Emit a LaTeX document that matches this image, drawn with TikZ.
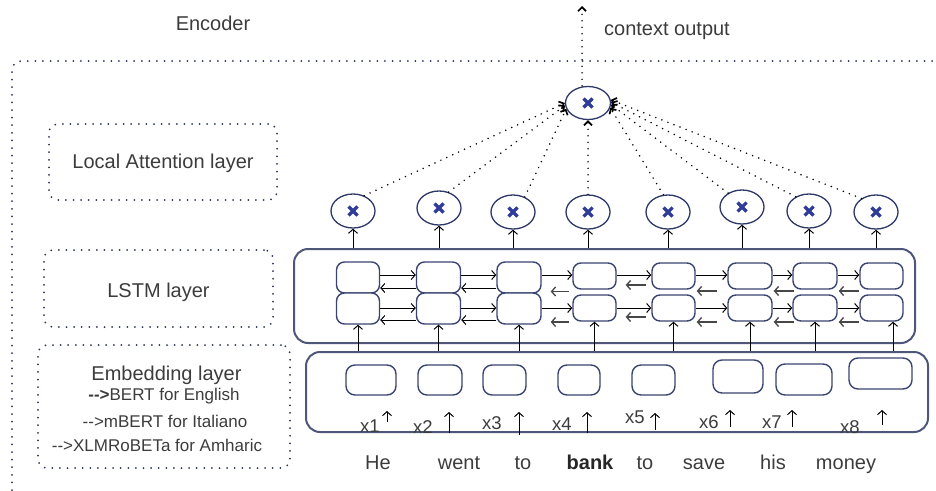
\documentclass[tikz,border=0pt]{standalone}
\usepackage{fontspec}
\setmainfont{Liberation Sans}
\usetikzlibrary{shapes.geometric,arrows.meta,calc}

\definecolor{txt}{HTML}{3C3C3C}
\definecolor{framec}{HTML}{4E5779}
\definecolor{cellc}{HTML}{3A4470}
\definecolor{ringc}{HTML}{2E3868}
\definecolor{crossc}{HTML}{2F3C98}
\definecolor{dotc}{HTML}{2A3358}
\definecolor{backc}{HTML}{474747}

\tikzset{
  lbl/.style={text=txt, font=\fontsize{20}{24}\selectfont, inner sep=0, anchor=base},
  smalllbl/.style={lbl, font=\fontsize{17}{20}\selectfont},
  xlbl/.style={lbl, font=\fontsize{18.5}{21}\selectfont},
  dotbox/.style={draw=dotc, line width=2pt, dash pattern=on 0pt off 7.6pt,
                 line cap=round, rounded corners=9, inner sep=0},
  bigbox/.style={draw=framec, line width=2pt, rounded corners=14, inner sep=0},
  cell/.style={draw=cellc, line width=1.4pt, rounded corners=8, inner sep=0, fill=white},
  embcell/.style={cell, rounded corners=9},
  attn/.style={ellipse, draw=ringc, line width=1.3pt, minimum width=44,
               minimum height=34, inner sep=0,
               path picture={
                 \draw[crossc, line width=3.2pt]
                   ([shift={(-4.5,-4.5)}]path picture bounding box.center) --
                   ([shift={(4.5,4.5)}]path picture bounding box.center)
                   ([shift={(-4.5,4.5)}]path picture bounding box.center) --
                   ([shift={(4.5,-4.5)}]path picture bounding box.center);}},
  arr/.style={draw=black, line width=1pt, -{Straight Barb[length=4pt,width=9pt]}},
  backarr/.style={draw=backc, line width=1.3pt, -{Straight Barb[length=4pt,width=9pt]}},
  dots/.style={draw=black, line width=1.7pt, dash pattern=on 0pt off 6.5pt, line cap=round},
  dotarr/.style={dots, -{Straight Barb[length=4pt,width=8pt]}},
}

\begin{document}
\begin{tikzpicture}[x=1pt,y=-1pt]
\useasboundingbox (0,0) rectangle (936,490);

% encoder frame and titles
\draw[dotbox] (12,490) -- (12,61) -- (936,61);
\node[lbl] (enc) at (213,30) {Encoder};
\node[lbl] (ctxlbl) at (667,35) {context output};

% layer name boxes
\node[dotbox, minimum width=228, minimum height=76] (attbox) at (163,162) {};
\node[lbl] (attlbl) at (163,168) {Local Attention layer};
\node[dotbox, minimum width=229, minimum height=77] (lstmbox) at (158.5,288.5) {};
\node[lbl] (lstmlbl) at (158.5,297) {LSTM layer};
\node[dotbox, minimum width=252, minimum height=123] (embbox) at (164,406.5) {};
\node[lbl] (emblbl) at (166.5,380) {Embedding layer};
\node[smalllbl] (emb1) at (164,400) {\textbf{-{}->}BERT for English};
\node[smalllbl] (emb2) at (165,427) {-{}->mBERT for Italiano};
\node[smalllbl] (emb3) at (157,451) {-{}->XLMRoBETa for Amharic};

% main blocks
\node[bigbox, minimum width=621, minimum height=94] (lstm) at (604.5,296) {};
\node[bigbox, minimum width=622, minimum height=80] (emb) at (617,392) {};

% LSTM cells: forward row (t) and backward row (u)
\foreach \n/\x/\w in {1/358/43,2/438.5/44,3/519/44} {
  \node[cell, minimum width=\w, minimum height=31] (t\n) at (\x,277.5) {};
  \node[cell, minimum width=\w, minimum height=31] (u\n) at (\x,308.5) {};
}
\foreach \n/\x/\w in {4/594.5/43,5/673.5/43,6/750/44,7/815/44,8/881.5/43} {
  \node[cell, minimum width=\w, minimum height=26] (t\n) at (\x,276) {};
  \node[cell, minimum width=\w, minimum height=26] (u\n) at (\x,308) {};
}

% rows used by the recurrent arrows
\coordinate (fa) at (0,275);
\coordinate (fb) at (0,308);
\coordinate (ba) at (0,288);
\coordinate (bb) at (0,320);

\foreach \a/\b in {1/2,2/3,3/4,4/5,5/6,6/7,7/8} {
  \draw[arr] (t\a.east |- fa) -- (t\b.west |- fa);
  \draw[arr] (u\a.east |- fb) -- (u\b.west |- fb);
}
\foreach \a/\b in {1/2,2/3} {
  \draw[arr] (t\b.west |- ba) -- (t\a.east |- ba);
  \draw[arr] (u\b.west |- bb) -- (u\a.east |- bb);
}
\draw[backarr] ($(t3.east)+(27,14)$) -- ($(t3.east)+(9,14)$);
\draw[backarr] ($(u3.east)+(27,13.5)$) -- ($(u3.east)+(9,13.5)$);
\draw[backarr] ($(t4.east)+(29,9)$) -- ($(t4.east)+(9,9)$);
\draw[backarr] ($(u4.east)+(29,9)$) -- ($(u4.east)+(9,9)$);
\foreach \a in {5,6,7} {
  \draw[backarr] ($(t\a.east)+(21,15)$) -- ($(t\a.east)+(1,15)$);
  \draw[backarr] ($(u\a.east)+(21,14)$) -- ($(u\a.east)+(1,14)$);
}

% embedding cells
\node[embcell, minimum width=50, minimum height=30] (e1) at (371,380) {};
\node[embcell, minimum width=44, minimum height=30] (e2) at (440,380) {};
\node[embcell, minimum width=43, minimum height=30] (e3) at (504.5,380) {};
\node[embcell, minimum width=42, minimum height=30] (e4) at (579,380) {};
\node[embcell, minimum width=43, minimum height=30] (e5) at (653.5,380) {};
\node[embcell, minimum width=50, minimum height=33] (e6) at (738,376.5) {};
\node[embcell, minimum width=56, minimum height=31] (e7) at (804,379.5) {};
\node[embcell, minimum width=63, minimum height=31] (e8) at (880.5,373.5) {};

% embeddings feed the LSTM
\foreach \n in {1,...,7} {
  \draw[arr] (u\n.south |- emb.north) -- (u\n.south);
}
\coordinate (u8in) at ($(u8.south)+(11.5,0)$);
\draw[arr] (u8in |- emb.north) -- (u8in);

% token indices with their input arrows
\node[xlbl] (x1) at (370,432) {x1};
\node[xlbl] (x2) at (423,433) {x2};
\node[xlbl] (x3) at (492,429) {x3};
\node[xlbl] (x4) at (562,430) {x4};
\node[xlbl] (x5) at (635,423) {x5};
\node[xlbl] (x6) at (709,428) {x6};
\node[xlbl] (x7) at (772,428) {x7};
\node[xlbl] (x8) at (850,433) {x8};
\foreach \n/\x/\y/\l in {1/387/422/11,2/449/433/21,3/519/435/23,4/587/433/21,
                         5/655/430/17,6/730/427/17,7/792/427/17,8/882/425/15} {
  \coordinate (xa\n) at (\x,\y);
  \draw[arr] (xa\n) -- ++(0,-\l);
}

% input sentence
\node[lbl] (w1) at (378,469) {He};
\node[lbl] (w2) at (459,469) {went};
\node[lbl] (w3) at (523,469) {to};
\node[lbl, font=\fontsize{20}{24}\selectfont\bfseries, text=black!85] (w4) at (590,469) {bank};
\node[lbl] (w5) at (645,469) {to};
\node[lbl] (w6) at (704,469) {save};
\node[lbl] (w7) at (773,469) {his};
\node[lbl] (w8) at (846,469) {money};

% attention units
\node[attn] (a1) at (353,211) {};
\node[attn] (a2) at (439,208) {};
\node[attn] (a3) at (513,212) {};
\node[attn] (a4) at (588,212) {};
\node[attn] (a5) at (668,212) {};
\node[attn] (a6) at (742,207) {};
\node[attn] (a7) at (809,211) {};
\node[attn] (a8) at (876,212) {};
\node[attn, minimum width=45, minimum height=33] (ctx) at (588,103) {};

\foreach \n in {1,...,8} {
  \draw[arr] (a\n.south |- lstm.north) -- (a\n.south);
}

% attention weights flowing into the context unit
\draw[dotarr] (a1.54) -- (ctx.180);
\draw[dotarr] (a2.59) -- (ctx.186);
\draw[dotarr] (a3.52) -- (ctx.195);
\draw[dotarr] (a4.north) -- (ctx.south);
\draw[dotarr] (a5.105) -- (ctx.-12);
\draw[dotarr] (a6.135) -- (ctx.-4);
\draw[dotarr] (a7.133) -- (ctx.2);
\draw[dotarr] (a8.137) -- (ctx.8);

\coordinate (out) at (582,6);
\draw[dotarr] (out |- ctx.north) -- (out);
\end{tikzpicture}
\end{document}
